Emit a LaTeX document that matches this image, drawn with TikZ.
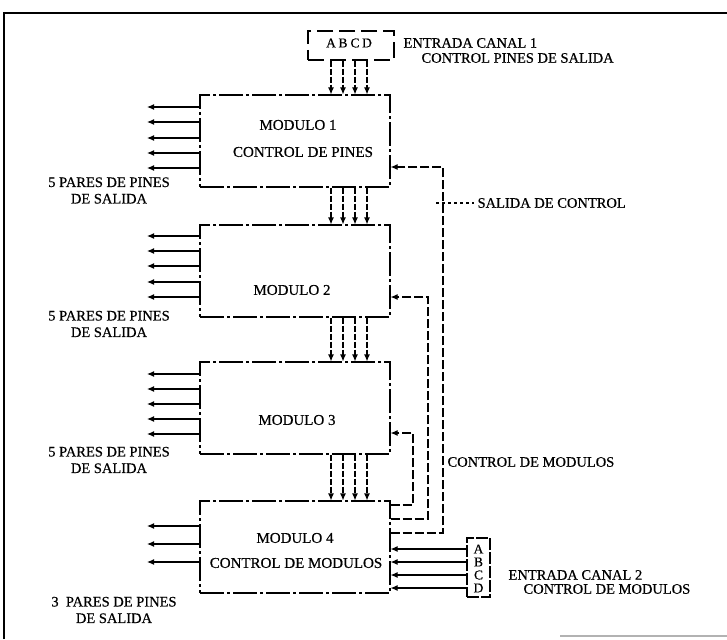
\documentclass[tikz,border=0pt]{standalone}
\usepackage{fontspec}
\setmainfont{Liberation Serif}[FakeBold=0.5]
\usetikzlibrary{arrows.meta}
\begin{document}
\begin{tikzpicture}[x=1pt,y=-1pt,line width=1.1pt,
  modbox/.style={draw,dash pattern=on 24pt off 3pt on 3pt off 3pt,minimum width=190pt,minimum height=92pt,inner sep=0pt},
  lbl/.style={font=\fontsize{14.5}{16.5}\selectfont,inner sep=0pt},
  mtxt/.style={font=\fontsize{15}{17}\selectfont,inner sep=0pt},
  letter/.style={font=\fontsize{13.5}{13}\selectfont,inner sep=0pt},
  pin/.style={-{Latex[length=7pt,width=6pt]}},
  bus/.style={-{Latex[length=7pt,width=6pt]},dash pattern=on 6pt off 2pt},
  ctrl/.style={-{Latex[length=7pt,width=6pt]},dash pattern=on 9pt off 3pt},
]
\useasboundingbox (0,0) rectangle (727,639);
% frame
\draw[line width=1.3pt] (4,639) -- (4,13) -- (727,13);
\draw[gray!60] (560,636) -- (727,636);

% modules
\node[modbox] (m1) at (295,141) {};
\node[modbox] (m2) at (295,271) {};
\node[modbox] (m3) at (295,408) {};
\node[modbox] (m4) at (295,547) {};
\node[mtxt] (m1a) at (298,125) {MODULO 1};
\node[mtxt] (m1b) at (303,152) {CONTROL DE PINES};
\node[mtxt] (m2a) at (292,290) {MODULO 2};
\node[mtxt] (m3a) at (297,420) {MODULO 3};
\node[mtxt] (m4a) at (295,538) {MODULO 4};
\node[mtxt] (m4b) at (296,563) {CONTROL DE MODULOS};

% output pins
\foreach \m/\ys in {m1/{107,122,138,153,168},m2/{236,251,266,282,297},m3/{374,389,404,419,434},m4/{526,544,562}}{
  \foreach \y [count=\i] in \ys {
    \coordinate (\m p\i) at (147,\y);
    \draw[pin] (\m.west |- \m p\i) -- (\m p\i);
  }
}
\node[lbl,align=center] (l1) at (109,190.5) {5 PARES DE PINES\\DE SALIDA};
\node[lbl,align=center] (l2) at (109,324) {5 PARES DE PINES\\DE SALIDA};
\node[lbl,align=center] (l3) at (109,460) {5 PARES DE PINES\\DE SALIDA};
\node[lbl,align=center] (l4) at (114,610) {3\ \ PARES DE PINES\\DE SALIDA};

% channel 1
\node[draw,minimum width=86pt,minimum height=29pt,inner sep=0pt,dash pattern=on 16pt off 6pt] (c1) at (351,45.5) {};
\node[letter] (cA) at (331,43) {A};
\node[letter] (cB) at (343,43) {B};
\node[letter] (cC) at (355,43) {C};
\node[letter] (cD) at (367,43) {D};
\foreach \l in {cA,cB,cC,cD}{
  \draw[bus] (c1.south -| \l) -- (m1.north -| \l);
  \draw[bus] (m1.south -| \l) -- (m2.north -| \l);
  \draw[bus] (m2.south -| \l) -- (m3.north -| \l);
  \draw[bus] (m3.south -| \l) -- (m4.north -| \l);
}
\node[lbl,anchor=west] (e1) at (403,43) {ENTRADA CANAL 1};
\node[lbl,anchor=west] (e1b) at (421,58) {CONTROL PINES DE SALIDA};

% control lines from module 4
\coordinate (k1b) at (443,533); \coordinate (k1t) at (443,167);
\coordinate (k2b) at (428,519); \coordinate (k2t) at (428,297);
\coordinate (k3b) at (413,505); \coordinate (k3t) at (413,433);
\draw[ctrl] (m4.east |- k1b) -- (k1b) -- (k1t) -- (m1.east |- k1t);
\draw[ctrl] (m4.east |- k2b) -- (k2b) -- (k2t) -- (m2.east |- k2t);
\draw[ctrl] (m4.east |- k3b) -- (k3b) -- (k3t) -- (m3.east |- k3t);
\node[lbl,anchor=west] (sdc) at (477,203) {SALIDA DE CONTROL};
\coordinate (sdcl) at (436,203);
\draw[dashed,shorten >=3pt] (sdcl) -- (sdc.west);
\node[lbl,anchor=west] (cdm) at (447,462) {CONTROL DE MODULOS};

% channel 2
\node[draw,minimum width=23pt,minimum height=59pt,inner sep=0pt,dash pattern=on 12pt off 2pt] (c2) at (478.5,567.5) {};
\node[letter] (c2A) at (478.5,549) {A};
\node[letter] (c2B) at (478.5,562) {B};
\node[letter] (c2C) at (478.5,575) {C};
\node[letter] (c2D) at (478.5,588) {D};
\foreach \l in {c2A,c2B,c2C,c2D}{
  \draw[pin] (c2.west |- \l) -- (m4.east |- \l);
}
\node[lbl,anchor=west] (e2) at (508,575) {ENTRADA CANAL 2};
\node[lbl,anchor=west] (e2b) at (523,589) {CONTROL DE MODULOS};
\end{tikzpicture}
\end{document}
